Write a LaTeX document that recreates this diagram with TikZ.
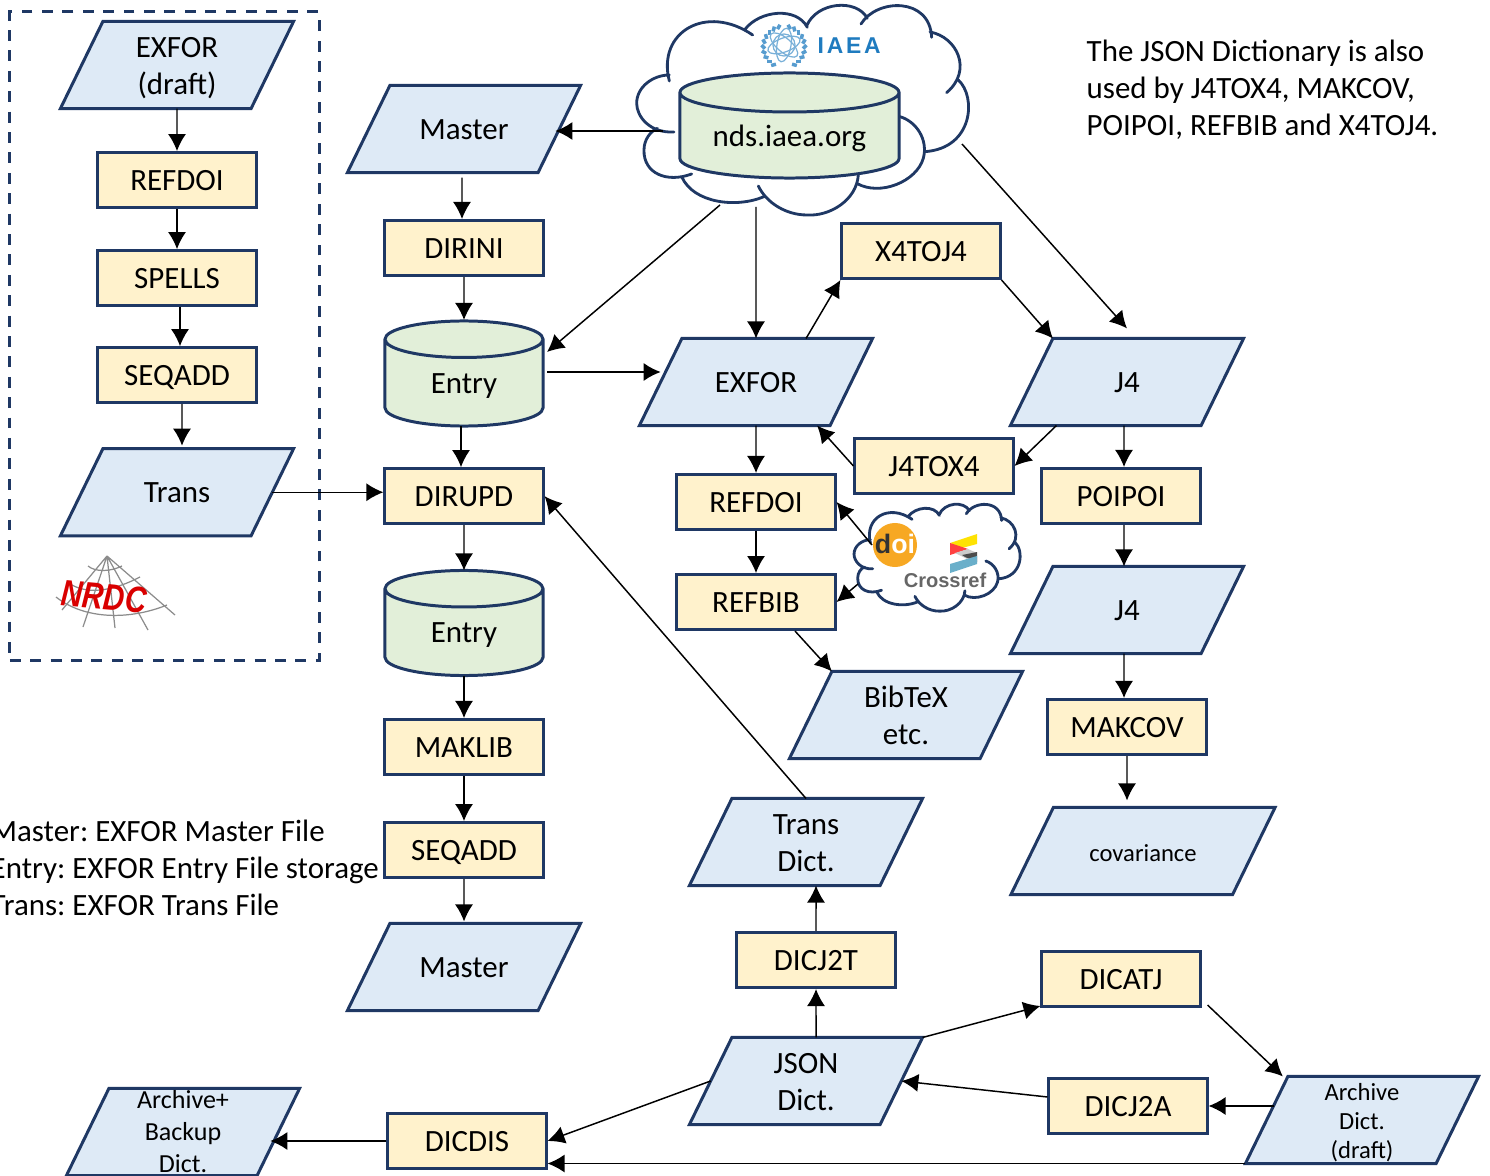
\documentclass[tikz,border=0pt]{standalone}
\usepackage{fontspec}
\setmainfont{Carlito}
\newfontfamily\logofont{Liberation Sans}
\newfontfamily\iaeafont[LetterSpace=12]{Liberation Sans}
\usetikzlibrary{arrows.meta,shapes.geometric}
\frenchspacing
\definecolor{navy}{HTML}{1F3864}
\definecolor{boxfill}{HTML}{FFF2CC}
\definecolor{filefill}{HTML}{DEEAF6}
\definecolor{storefill}{HTML}{E2EFD9}
\definecolor{iaeablue}{HTML}{1F7BBF}
\definecolor{doiorange}{HTML}{F7A823}
\newcommand{\txt}{\fontsize{8.8}{10.5}\selectfont}
\newcommand{\smalltxt}{\fontsize{7}{8.2}\selectfont}
\newcommand{\mlines}[2][-0.015cm]{\raisebox{#1}{\begin{tabular}[c]{@{}c@{}}#2\end{tabular}}}
\newcommand{\cloudoutline}[1]{
\draw[cloudline,#1]
	(118,243) .. controls (80,95) and (230,10) .. (368,105)
	(345,88) .. controls (390,30) and (500,20) .. (532,82)
	(530,78) .. controls (560,5) and (680,-5) .. (712,55)
	(693,72) .. controls (740,-5) and (900,-10) .. (905,112)
	(900,96) .. controls (980,110) and (1030,210) .. (950,278)
	(985,240) .. controls (1040,290) and (1030,445) .. (885,455)
	(810,350) .. controls (860,365) and (895,420) .. (880,475)
	.. controls (860,545) and (750,590) .. (680,550)
	(685,525) .. controls (680,600) and (600,650) .. (530,645)
	.. controls (470,645) and (410,610) .. (385,558)
	(402,590) .. controls (320,625) and (190,610) .. (155,530)
	(185,522) .. controls (110,550) and (40,520) .. (42,450)
	.. controls (42,420) and (60,395) .. (82,385)
	(132,396) .. controls (60,400) and (20,350) .. (20,310)
	.. controls (20,260) and (70,225) .. (118,225);
}
\tikzset{
>={Latex[width=1.8mm,length=1.7mm]},
	prog/.style={
		rectangle,
		fill=boxfill,
		draw=navy, line width=0.85pt,
		inner sep=0pt,
		minimum width=1.58cm,
		minimum height=0.55cm,
		text height=0.21cm,
		text depth=0pt,
		font=\txt},
	file/.style={
		trapezium,
		trapezium left angle=64,
		trapezium right angle=116,
		trapezium stretches body,
		fill=filefill,
		draw=navy, line width=0.85pt,
		inner sep=0pt,
		outer sep=0pt,
		minimum width=2.33cm,
		text height=0.535cm,
		text depth=0.335cm,
		font=\txt},
	store/.style={
		cylinder,
		shape border rotate=90,
		aspect=0.55,
		fill=storefill,
		draw=navy, line width=0.85pt,
		inner sep=0pt,
		outer sep=0pt,
		anchor=shape center,
		minimum width=1.58cm,
		minimum height=1.05cm,
		text height=0.2cm,
		text depth=0pt,
		font=\txt},
	conn/.style={->, line width=0.42pt},
	cloudline/.style={draw=navy, line width=0.8pt, line cap=round},
	note/.style={align=left, inner sep=0pt, anchor=west, font=\txt},
	groupbox/.style={draw=navy, line width=0.85pt, dash pattern=on 3.1pt off 2.7pt,
		minimum width=3.09cm, minimum height=6.48cm, inner sep=0pt}
}
\begin{document}
\begin{tikzpicture}[x=0.01cm, y=-0.01cm]
\useasboundingbox (0,0) rectangle (1490,1176);
% clouds
\cloudoutline{shift={(630,0)}, xscale=0.3333, yscale=0.3333}
\cloudoutline{shift={(850.7,501.5)}, xscale=0.1668, yscale=0.17}
% NRDC column
\node[groupbox] (nrdc) at (164.5,336) {};
\node[file] (draft) at (177,65) {\mlines{EXFOR\\(draft)}};
\node[prog, below of=draft, node distance=1.15cm] (refdoiA) {REFDOI};
\node[prog, below of=refdoiA, node distance=0.98cm] (spells) {SPELLS};
\node[prog, below of=spells, node distance=0.97cm] (seqaddA) {SEQADD};
\node[file, below of=seqaddA, node distance=1.17cm] (trans) {Trans};
% storage column
\node[file] (masterA) at (464,129) {Master};
\node[prog] (dirini) at (464,248) {DIRINI};
\node[store] (entryA) at (464,373.5) {Entry};
\node[prog, below of=dirini, node distance=2.48cm] (dirupd) {DIRUPD};
\node[store] (entryB) at (464,623) {Entry};
\node[prog] (maklib) at (464,747) {MAKLIB};
\node[prog, below of=maklib, node distance=1.03cm] (seqaddB) {SEQADD};
\node[file] (masterB) at (464,967) {Master};
% IAEA server
\node[store, minimum width=2.19cm, aspect=0.39] (nds) at (789.5,125.5) {\makebox[1cm]{nds.iaea.org}};
\node[font=\fontsize{6.5}{8}\iaeafont\bfseries, text=iaeablue, inner sep=0pt, anchor=west] (iaea) at (817,46) {IAEA};
\foreach \ang in {115,130,...,250} {
	\draw[iaeablue!75, line width=1pt] (784,47) ++(\ang:19) -- ++(\ang+50:5);
	\draw[iaeablue!75, line width=1pt] (784,47) ++(180-\ang:19) -- ++(130-\ang:5);
}
\foreach \ang in {20,80,140} {
	\draw[iaeablue!60, line width=0.35pt, rotate around={\ang:(784,45)}] (784,45) ellipse (17 and 7);
}
\draw[iaeablue!60, line width=0.35pt] (784,45) circle (11);
\coordinate (ndsW) at (663,131);
\coordinate (ndsSW) at (720,205);
\coordinate (ndsS) at (756,207);
\coordinate (ndsE) at (962,144);
% EXFOR and J4
\node[file] (exfor) at (756,382) {EXFOR};
\node[prog] (x4toj4) at (921,251) {X4TOJ4};
\node[prog] (j4tox4) at (934,466) {J4TOX4};
\node[prog] (refdoiB) at (756,502) {REFDOI};
\node[prog, below of=refdoiB, node distance=1cm] (refbib) {REFBIB};
\node[file] (bibtex) at (906,715) {\mlines{BibTeX\\etc.}};
\node[file] (jfourA) at (1127,382) {J4};
\node[prog] (poipoi) at (1121,496) {POIPOI};
\node[file] (jfourB) at (1127,610) {J4};
\node[prog] (makcov) at (1127,727) {MAKCOV};
\node[file, minimum width=2.64cm, font=\smalltxt] (cov) at (1143,851) {covariance};
% dictionaries
\node[file] (transdict) at (806,842) {\mlines{Trans\\Dict.}};
\node[prog] (dicjtwot) at (816,960) {DICJ2T};
\node[file] (json) at (806,1081) {\mlines{JSON\\Dict.}};
\node[prog] (dicatj) at (1121,979) {DICATJ};
\node[prog] (dicjtwoa) at (1128,1106) {DICJ2A};
\node[prog] (dicdis) at (467,1141) {DICDIS};
\node[file, font=\smalltxt] (archive) at (1362,1120) {\mlines[0cm]{Archive\\Dict.\\(draft)}};
\node[file, font=\fontsize{7.4}{9.1}\selectfont] (backup) at (183,1132) {\mlines[0.02cm]{Archive+\\Backup\\Dict.}};
% doi and Crossref
\node[circle, fill=doiorange, inner sep=0pt, minimum size=0.44cm] (doi) at (895,545) {};
\node[font=\fontsize{7.6}{10}\logofont\bfseries, inner sep=0pt] (doitxt) at (895,544) {\textcolor{black!80}{d}\textcolor{white}{oi}};
\node[font=\fontsize{5.7}{7}\logofont\bfseries, text=black!60, inner sep=0pt] (crossref) at (945,580) {Crossref};
\fill[yellow!85!orange] (950,543) -- (977,534) -- (977,544) -- (962,548) -- cycle;
\fill[red!75!white] (950,543) -- (968,549) -- (950,555) -- cycle;
\fill[black!20] (955,553) -- (968,549) -- (977,553) -- (967,559) -- cycle;
\fill[black!70] (962,555) -- (977,552) -- (977,562) -- (965,557) -- cycle;
\fill[cyan!70!black!70] (950,564) -- (977,556) -- (977,564) -- (950,573) -- cycle;
\coordinate (doiNW) at (872,545);
\coordinate (doiSW) at (858,584);
% NRDC logo
\draw[black!45, line width=0.35pt] (107,556) -- (62,610) (107,556) -- (83,627) (107,556) -- (115,628)
	(107,556) -- (148,630) (107,556) -- (175,615)
	(56,597) .. controls (85,620) and (130,620) .. (167,605)
	(72,585) .. controls (90,595) and (115,590) .. (140,577)
	(88,566) .. controls (95,572) and (110,572) .. (122,566);
\node[font=\fontsize{10.5}{12}\logofont\bfseries\itshape, text=red!85!black, inner sep=0pt, rotate=-5] (nrdclogo) at (104,597) {\scalebox{0.8}[1]{NRDC}};
% notes
\node[note] (usedby) at (1086,89.5) {The JSON Dictionary is also\\used by J4TOX4, MAKCOV,\\POIPOI, REFBIB and X4TOJ4.};
\node[note] (legend) at (-10,868) {Master: EXFOR Master File\\Entry: EXFOR Entry File storage\\Trans: EXFOR Trans File};
% connectors
\draw[conn] (draft.south) -- (refdoiA.north);
\draw[conn] (refdoiA.south) -- (spells.north);
\draw[conn] ([xshift=0.03cm]spells.south) -- ([xshift=0.03cm]seqaddA.north);
\draw[conn] ([xshift=0.05cm]seqaddA.south) -- ([xshift=0.05cm,yshift=0.03cm]trans.north);
\draw[conn] (trans.east) -- (trans.east -| dirupd.west);
\draw[conn] ([xshift=-0.02cm,yshift=-0.05cm]masterA.south) -- ([xshift=-0.02cm]dirini.north);
\draw[conn] (dirini.south) -- ([yshift=0.01cm]entryA.north);
\draw[conn] ([xshift=-0.03cm]entryA.south) -- ([xshift=-0.03cm]dirupd.north);
\draw[conn] (dirupd.south) -- (entryB.north);
\draw[conn] (entryB.south) -- (maklib.north);
\draw[conn] (maklib.south) -- (seqaddB.north);
\draw[conn] (seqaddB.south) -- ([yshift=0.02cm]masterB.north);
\draw[conn] (ndsW) -- ([xshift=-0.04cm]masterA.east |- ndsW);
\draw[conn] (ndsSW) -- ([xshift=0.83cm,yshift=0.215cm]entryA.shape center);
\draw[conn] (ndsS) -- (exfor.north);
\draw[conn] (ndsE) -- ([yshift=0.1cm]jfourA.north);
\draw[conn] ([xshift=0.83cm,yshift=0.015cm]entryA.shape center) -- ([yshift=0.015cm]entryA.shape center -| exfor.west);
\draw[conn] ([xshift=0.5cm]exfor.north) -- (x4toj4.south west);
\draw[conn] (x4toj4.south east) -- (jfourA.top left corner);
\draw[conn] ([xshift=0.46cm]jfourA.bottom left corner) -- (j4tox4.east);
\draw[conn] (j4tox4.west) -- ([xshift=-0.13cm]exfor.bottom right corner);
\draw[conn] ([xshift=-0.03cm]jfourA.south) -- ([xshift=0.03cm]poipoi.north);
\draw[conn] (exfor.south) -- (refdoiB.north);
\draw[conn] (refdoiB.south) -- (refbib.north);
\draw[conn] (doiNW) -- (refdoiB.east);
\draw[conn] (doiSW) -- (refbib.east);
\draw[conn] ([xshift=0.39cm]refbib.south) -- (bibtex.top left corner);
\draw[conn] ([xshift=0.03cm]poipoi.south) -- ([xshift=-0.03cm]jfourB.north);
\draw[conn] ([xshift=-0.03cm]jfourB.south) -- ([xshift=-0.03cm]makcov.north);
\draw[conn] (makcov.south) -- ([yshift=0.07cm,xshift=-0.16cm]cov.north);
\draw[conn] (transdict.north) -- (dirupd.east);
\draw[conn] (dicjtwot.north) -- ([xshift=0.1cm]transdict.south);
\draw[conn] ([xshift=0.1cm]json.north) -- (dicjtwot.south);
\draw[conn] (json.top right corner) -- ([yshift=0.02cm]dicatj.south west);
\draw[conn] ([xshift=0.06cm,yshift=0.03cm]dicatj.south east) -- ([xshift=-0.05cm]archive.top left corner);
\draw[conn] ([xshift=0.07cm]archive.west |- dicjtwoa.east) -- (dicjtwoa.east);
\draw[conn] ([yshift=0.09cm]dicjtwoa.west) -- (json.east);
\draw[conn] (json.west) -- (dicdis.east);
\draw[conn] (dicdis.west) -- ([xshift=-0.08cm]dicdis.west -| backup.east);
\draw[conn] (archive.bottom left corner) -- (archive.bottom left corner -| dicdis.east);
\end{tikzpicture}
\end{document}
